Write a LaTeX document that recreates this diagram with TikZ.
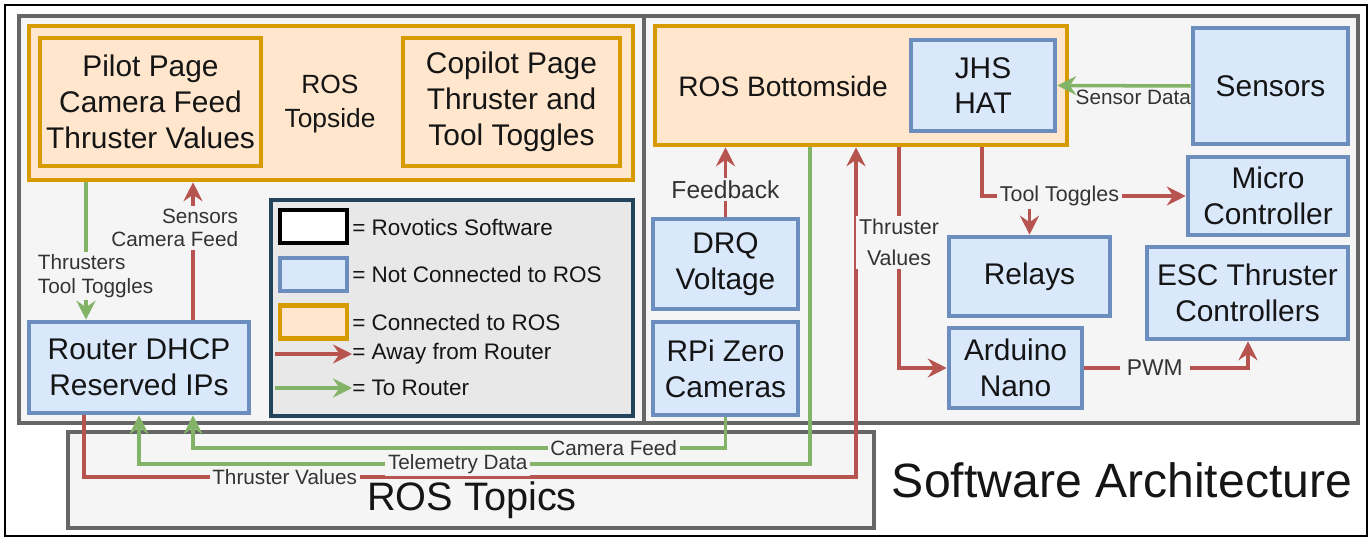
\documentclass[tikz,border=0pt]{standalone}
\usepackage{fontspec}
\setmainfont{Liberation Sans}
\usetikzlibrary{arrows.meta}
\definecolor{ofill}{HTML}{FFE6CC}
\definecolor{ostroke}{HTML}{D79B00}
\definecolor{bfill}{HTML}{DAE8FC}
\definecolor{bstroke}{HTML}{6C8EBF}
\definecolor{redc}{HTML}{B85450}
\definecolor{grnc}{HTML}{82B366}
\definecolor{panelbg}{HTML}{F5F5F5}
\definecolor{panelline}{HTML}{666666}
\definecolor{legbg}{HTML}{E8E8E8}
\definecolor{legline}{HTML}{23445D}
\definecolor{txt}{HTML}{151515}
\definecolor{lbltxt}{HTML}{333333}
\newcommand\myfs[2]{\fontsize{#1}{#2}\selectfont}
\begin{document}
\begin{tikzpicture}[x=0.02cm,y=-0.02cm,
  sz/.style 2 args={minimum width=#1*0.02cm, minimum height=#2*0.02cm},
  boxbase/.style={rectangle, inner sep=0pt, align=center, text=txt, font=\myfs{17}{20.4}, line width=2.6pt},
  bbox/.style={boxbase, draw=bstroke, fill=bfill},
  obox/.style={boxbase, draw=ostroke, fill=ofill},
  panelbox/.style={rectangle, draw=panelline, fill=panelbg, line width=2pt, inner sep=0pt},
  headstyle/.style={-{Stealth[length=3.8mm,width=3.8mm,inset=1.3mm]}},
  rarr/.style={draw=redc, line width=2pt, headstyle},
  garr/.style={draw=grnc, line width=2pt, headstyle},
  lbl/.style={fill=panelbg, inner sep=1.5pt, text=lbltxt, font=\myfs{11.8}{13.5}, align=center},
  lgtext/.style={anchor=west, inner sep=0pt, text=txt, font=\myfs{12.8}{15}},
]
\useasboundingbox (0,0) rectangle (1372,540);
\fill[white] (0,0) rectangle (1372,540);
\draw[black, line width=1.4pt] (5,5) rectangle (1367,536);

% panels
\node[panelbox, sz={625}{407}] (toppanel) at (331.5,219.5) {};
\node[panelbox, sz={714}{407}] (botpanel) at (1001,219.5) {};
\node[panelbox, sz={806}{96}] (topics) at (471,480) {};
\node[font=\myfs{22.6}{26}, text=txt, inner sep=0pt] (topicstext) at (472,500) {ROS Topics};
\node[font=\myfs{27.4}{31}, text=txt, inner sep=0pt] (title) at (1122,480) {Software Architecture};

% topside
\node[obox, sz={604}{154}] (topside) at (331,103) {};
\node[obox, sz={221}{128}] (pilot) at (150.5,102) {Pilot Page\\Camera Feed\\Thruster Values};
\node[boxbase, font=\myfs{15}{19}] (topsidelabel) at (330,104) {ROS\\Topside};
\node[obox, sz={217}{128}] (copilot) at (511.5,102) {Copilot Page\\Thruster and\\Tool Toggles};

% legend
\node[rectangle, draw=legline, fill=legbg, line width=2.6pt, sz={362}{216}] (legend) at (452,308) {};
\node[rectangle, draw=black, fill=white, line width=2.6pt, sz={67}{33}] (swW) at (313.5,226.5) {};
\node[bbox, sz={67}{33}] (swB) at (313.5,274.5) {};
\node[obox, sz={67}{33}] (swO) at (313.5,322) {};
\node[lgtext] (lt1) at (352,227) {= Rovotics Software};
\node[lgtext] (lt2) at (352,274) {= Not Connected to ROS};
\node[lgtext] (lt3) at (352,322) {= Connected to ROS};
\node[lgtext] (lt4) at (352,354) {= Away from Router};
\node[lgtext] (lt5) at (352,388) {= To Router};
\coordinate (la4) at (275,354);
\coordinate (la5) at (275,388);
\draw[rarr] (la4) -- (lt4.west);
\draw[garr] (la5) -- (lt5.west);

% router
\node[bbox, sz={220}{91}] (router) at (139,367.5) {Router DHCP\\Reserved IPs};

% bottomside
\node[obox, sz={412}{119}] (bottomside) at (861,85.5) {};
\node[boxbase, font=\myfs{16}{19}] (bslabel) at (783,86) {ROS Bottomside};
\node[bbox, sz={144}{91}] (jhs) at (983,85.5) {JHS\\HAT};
\node[bbox, sz={155}{116}] (sensors) at (1270.5,86) {Sensors};
\node[bbox, sz={160}{78}] (micro) at (1268,196) {Micro\\Controller};
\node[bbox, sz={201}{92}] (esc) at (1247.5,293) {ESC Thruster\\Controllers};
\node[bbox, sz={161}{79}] (relays) at (1029.5,276.5) {Relays};
\node[bbox, sz={133}{80}] (arduino) at (1015.5,368) {Arduino\\Nano};
\node[bbox, sz={145}{90}] (drq) at (725.5,264) {DRQ\\Voltage};
\node[bbox, sz={145}{93}] (rpi) at (725.5,368.5) {RPi Zero\\Cameras};

% helper coordinates
\coordinate (vA) at (86,0);
\coordinate (vB) at (193,0);
\coordinate (vC) at (84,0);
\coordinate (vD) at (139,0);
\coordinate (vE) at (810,0);
\coordinate (vF) at (856,0);
\coordinate (vG) at (899,0);
\coordinate (vH) at (982,0);
\coordinate (vJ) at (1248,0);
\coordinate (hA) at (0,477);
\coordinate (hB) at (0,464);
\coordinate (hC) at (0,448);

% left connectors
\draw[garr] (topside.south -| vA) -- node[lbl,pos=0.683,anchor=west,xshift=-1.05cm,align=left]{Thrusters\\Tool Toggles} (router.north -| vA);
\draw[rarr] (router.north -| vB) -- node[lbl,pos=0.669,anchor=east,xshift=0.99cm,align=right]{Sensors\\Camera Feed} (topside.south -| vB);

% bottom connectors
\draw[rarr] (router.south -| vC) -- (vC |- hA) -- node[lbl,pos=0.26]{Thruster Values} (vF |- hA) -- (bottomside.south -| vF);
\draw[garr] (bottomside.south -| vE) -- (vE |- hB) -- node[lbl,pos=0.525]{Telemetry Data} (vD |- hB) -- (router.south -| vD);
\draw[garr] (rpi.south) -- (rpi.south |- hC) -- node[lbl,pos=0.21]{Camera Feed} (vB |- hC) -- (router.south -| vB);

% right connectors
\draw[rarr] (drq.north) -- node[lbl,pos=0.39,font=\myfs{14}{16}]{Feedback} (bottomside.south -| drq.north);
\draw[rarr] (bottomside.south -| vG) -- node[lbl,pos=0.43,font=\myfs{12.2}{18}]{Thruster\\Values} (vG |- arduino.west) -- (arduino.west);
\draw[rarr] (relays.north |- micro.west) -- (relays.north);
\draw[rarr] (bottomside.south -| vH) -- (vH |- micro.west) -- node[lbl,pos=0.38,font=\myfs{12.2}{14}]{Tool Toggles} (micro.west);
\draw[rarr] (arduino.east) -- node[lbl,pos=0.43,inner sep=4pt,font=\myfs{13}{15}]{PWM} (vJ |- arduino.east) -- (esc.south -| vJ);
\draw[garr] (sensors.west) -- node[below,pos=0.43,inner sep=1.5pt,text=lbltxt,font=\myfs{11.8}{13.5}]{Sensor Data} (jhs.east);
\end{tikzpicture}
\end{document}
